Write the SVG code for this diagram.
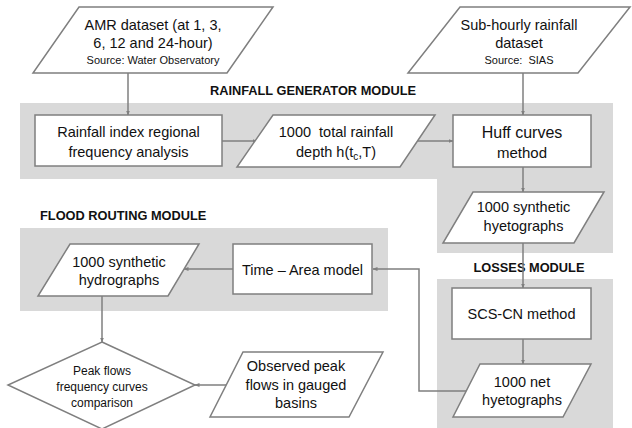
<svg xmlns="http://www.w3.org/2000/svg" width="632" height="428" viewBox="0 0 632 428">
<style>
  .bg { fill: #d9d9d9; stroke: none; }
  .shape { fill: #ffffff; stroke: #7f7f7f; stroke-width: 1.5; }
  .conn { fill: none; stroke: #7f7f7f; stroke-width: 1.5; }
  text { font-family: "Liberation Sans", Arial, sans-serif; fill: #111111; }
  .t { font-size: 14.5px; text-anchor: middle; }
  .s { font-size: 11px; text-anchor: middle; }
  .d { font-size: 12px; text-anchor: middle; }
  .mod { font-size: 12.8px; font-weight: bold; }
</style>
<defs>
  <marker id="arr" viewBox="0 0 10 10" refX="9" refY="5" markerWidth="5" markerHeight="5" orient="auto" markerUnits="userSpaceOnUse">
    <path d="M0,1 L10,5 L0,9 Z" fill="#7f7f7f"/>
  </marker>
</defs>
<rect width="632" height="428" fill="#ffffff"/>

<g id="modules">
  <path class="bg" d="M20,103 H613 V253 H437 V179 H20 Z"/>
  <rect class="bg" x="437" y="279" width="176" height="149"/>
  <rect class="bg" x="20" y="228" width="368" height="83"/>
  <text class="mod" x="313" y="95" text-anchor="middle">RAINFALL GENERATOR MODULE</text>
  <text class="mod" x="40" y="220">FLOOD ROUTING MODULE</text>
  <text class="mod" x="529" y="272" text-anchor="middle">LOSSES MODULE</text>
</g>

<g id="connectors">
  <line class="conn" x1="128" y1="73" x2="128" y2="115" marker-end="url(#arr)"/>
  <line class="conn" x1="222" y1="141" x2="257" y2="141" marker-end="url(#arr)"/>
  <line class="conn" x1="417" y1="141" x2="453" y2="141" marker-end="url(#arr)"/>
  <line class="conn" x1="523" y1="73" x2="523" y2="115" marker-end="url(#arr)"/>
  <line class="conn" x1="523" y1="167" x2="523" y2="192" marker-end="url(#arr)"/>
  <line class="conn" x1="523" y1="243" x2="523" y2="288" marker-end="url(#arr)"/>
  <line class="conn" x1="523" y1="339" x2="523" y2="364" marker-end="url(#arr)"/>
  <path class="conn" d="M466,391 H419 V269 H373" marker-end="url(#arr)"/>
  <line class="conn" x1="233" y1="269" x2="184" y2="269" marker-end="url(#arr)"/>
  <line class="conn" x1="102" y1="296" x2="102" y2="342" marker-end="url(#arr)"/>
  <line class="conn" x1="226" y1="385" x2="195" y2="385" marker-end="url(#arr)"/>
</g>

<g id="amr">
  <polygon class="shape" points="79,7 273,7 227,73 33,73"/>
  <text class="t" x="153" y="30">AMR dataset (at 1, 3,</text>
  <text class="t" x="153" y="48">6, 12 and 24-hour)</text>
  <text class="s" x="153" y="64">Source: Water Observatory</text>
</g>

<g id="subhourly">
  <polygon class="shape" points="460,7 630,7 578,73 408,73"/>
  <text class="t" x="519" y="30">Sub-hourly rainfall</text>
  <text class="t" x="519" y="48">dataset</text>
  <text class="s" x="519" y="64" xml:space="preserve">Source:  SIAS</text>
</g>

<g id="rainfall-index">
  <rect class="shape" x="35" y="115" width="187" height="51"/>
  <text class="t" x="128.5" y="137">Rainfall index regional</text>
  <text class="t" x="128.5" y="157">frequency analysis</text>
</g>

<g id="total-rainfall">
  <polygon class="shape" points="273,115 435,115 400,167 237,167"/>
  <text class="t" x="336" y="137" xml:space="preserve">1000  total rainfall</text>
  <text class="t" x="336" y="157">depth h(t<tspan font-size="10px" dy="3">c</tspan><tspan dy="-3">,T)</tspan></text>
</g>

<g id="huff">
  <rect class="shape" x="453" y="115" width="138" height="52"/>
  <text x="522" y="138" font-size="16px" text-anchor="middle">Huff curves</text>
  <text x="522" y="158" font-size="15px" text-anchor="middle">method</text>
</g>

<g id="synthetic-hyetographs">
  <polygon class="shape" points="473,192 604,192 574,243 443,243"/>
  <text class="t" x="523.5" y="212">1000 synthetic</text>
  <text class="t" x="523.5" y="231">hyetographs</text>
</g>

<g id="scs-cn">
  <rect class="shape" x="452" y="288" width="139" height="51"/>
  <text class="t" x="521.5" y="319">SCS-CN method</text>
</g>

<g id="net-hyetographs">
  <polygon class="shape" points="480,364 591,364 563,417 453,417"/>
  <text class="t" x="522" y="387">1000 net</text>
  <text class="t" x="522" y="405">hyetographs</text>
</g>

<g id="time-area">
  <rect class="shape" x="233" y="244" width="139" height="50"/>
  <text class="t" x="302.5" y="275">Time – Area model</text>
</g>

<g id="hydrographs">
  <polygon class="shape" points="70,244 199,244 168,296 38,296"/>
  <text class="t" x="119" y="267">1000 synthetic</text>
  <text class="t" x="119" y="285">hydrographs</text>
</g>

<g id="comparison">
  <polygon class="shape" points="102,342 195,385 102,429 8,385"/>
  <text class="d" x="102" y="375">Peak flows</text>
  <text class="d" x="102" y="391">frequency curves</text>
  <text class="d" x="102" y="407">comparison</text>
</g>

<g id="observed">
  <polygon class="shape" points="243,352 383,352 349,417 210,417"/>
  <text class="t" x="296" y="371">Observed peak</text>
  <text class="t" x="296" y="390">flows in gauged</text>
  <text class="t" x="296" y="408">basins</text>
</g>
</svg>
